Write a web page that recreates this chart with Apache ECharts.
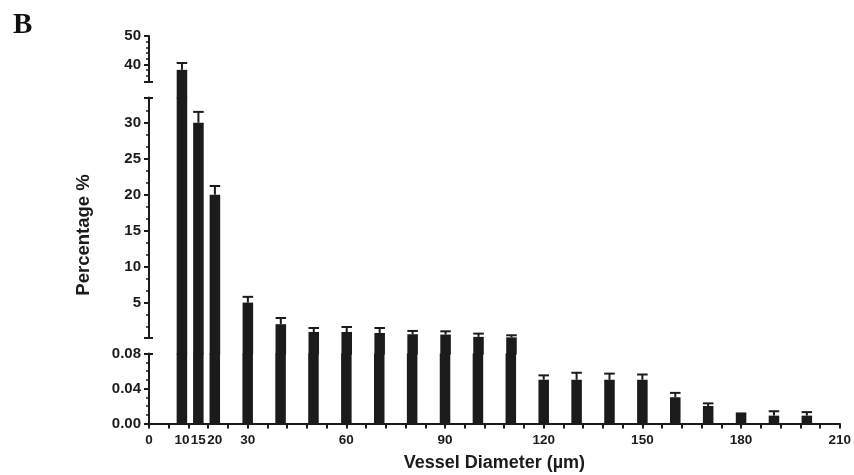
<!DOCTYPE html>
<html>
<head>
<meta charset="utf-8">
<script src="https://cdn.jsdelivr.net/npm/echarts@6/dist/echarts.min.js"></script>
<style>
  html, body { margin: 0; padding: 0; background: #fff; }
  #chart { width: 854px; height: 475px; }
</style>
</head>
<body>
<div id="chart"></div>
<script>
// vessel diameter classes (µm) and mean percentage with upper SEM
const diameters = [10, 15, 20, 30, 40, 50, 60, 70, 80, 90, 100, 110, 120, 130, 140, 150, 160, 170, 180, 190, 200];
const percentages = [38.1, 30.0, 20.0, 5.0, 2.0, 0.92, 0.92, 0.78, 0.6, 0.56, 0.24, 0.17, 0.05, 0.05, 0.05, 0.05, 0.03, 0.02, 0.011, 0.009, 0.009];
const sem = [2.4, 1.5, 1.2, 0.8, 0.86, 0.55, 0.69, 0.69, 0.46, 0.45, 0.45, 0.29, 0.005, 0.008, 0.007, 0.006, 0.005, 0.003, 0.0005, 0.005, 0.004];

const xLabels = [0, 10, 15, 20, 30, 60, 90, 120, 150, 180, 210];
const xTicks = Array.from({ length: 36 }, (_, i) => i * 6);

// broken y axis: top, middle, bottom segment
const segRanges = [[34, 50], [0.15, 33.5], [0, 0.08]];
const segMajor = [[40, 50], [5, 10, 15, 20, 25, 30], [0, 0.04, 0.08]];
const segMinor = [
	[36, 38, 42, 44, 46, 48],
	[1.667, 3.333, 6.667, 8.333, 11.667, 13.333, 16.667, 18.333, 21.667, 23.333, 26.667, 28.333, 31.667],
	[0.01, 0.02, 0.03, 0.05, 0.06, 0.07]
];
const segBreaks = [[34], [0.15, 33.5], [0.08]];

const segBoxes = [
	{ top: 36, height: 45.5 },
	{ top: 97.5, height: 240 },
	{ top: 353.5, height: 70 }
];

const ink = '#1b1b1b';
const barWidth = 3.2;
const font = "'Liberation Sans', Arial, sans-serif";

var myChart = echarts.init(document.getElementById('chart'));

function makeRender(k) {
	let lo = segRanges[k][0], hi = segRanges[k][1];
	// bars run on through the gap under a break, 1px overlap to avoid seams
	let gapBelow = k < 2 ? segBoxes[k + 1].top - (segBoxes[k].top + segBoxes[k].height) + 1 : 0;
	return function (params, api) {
		let x = api.value(0), v = api.value(1), err = api.value(2);
		if (k < 2 && v <= lo) return null;
		let half = barWidth / 2;
		let pTop = api.coord([x - half, Math.min(v, hi)]);
		let pBot = api.coord([x + half, lo]);
		let children = [{
			type: 'rect',
			shape: {
				x: pTop[0],
				y: pTop[1],
				width: pBot[0] - pTop[0],
				height: pBot[1] + gapBelow - pTop[1]
			},
			style: { fill: ink }
		}];
		if (v > lo && v <= hi) {
			let a = api.coord([x, v]);
			let b = api.coord([x, v + err]);
			let c1 = api.coord([x - half, v + err]);
			let c2 = api.coord([x + half, v + err]);
			children.push({
				type: 'line',
				shape: { x1: a[0], y1: a[1], x2: b[0], y2: b[1] },
				style: { stroke: ink, lineWidth: 2 }
			});
			children.push({
				type: 'line',
				shape: { x1: c1[0], y1: c1[1], x2: c2[0], y2: c2[1] },
				style: { stroke: ink, lineWidth: 2 }
			});
		}
		return { type: 'group', children: children };
	};
}

let seriesData = diameters.map((d, i) => [d, percentages[i], sem[i]]);

let grids = segBoxes.map(b => ({ left: 149, right: 13, top: b.top, height: b.height }));

let xAxes = segBoxes.map((b, k) => ({
	type: 'value',
	gridIndex: k,
	min: 0,
	max: 210,
	show: k === 2,
	splitLine: { show: false },
	axisLine: { show: true, onZero: false, lineStyle: { color: ink, width: 2 } },
	axisTick: { show: true, customValues: xTicks, length: 5, lineStyle: { color: ink, width: 2 } },
	axisLabel: {
		customValues: xLabels,
		color: ink,
		fontSize: 13.5,
		fontWeight: 'bold',
		fontFamily: font,
		margin: 10
	},
	name: k === 2 ? 'Vessel Diameter (µm)' : '',
	nameLocation: 'middle',
	nameGap: 31,
	nameTextStyle: { color: ink, fontSize: 18, fontWeight: 'bold', fontFamily: font }
}));

let yAxes = [];
// main axes: line, major ticks, labels
segRanges.forEach((r, k) => {
	yAxes.push({
		type: 'value',
		gridIndex: k,
		min: r[0],
		max: r[1],
		position: 'left',
		splitLine: { show: false },
		axisLine: { show: true, onZero: false, lineStyle: { color: ink, width: 2 } },
		axisTick: {
			show: true,
			customValues: segMajor[k].concat(segBreaks[k]),
			length: 5,
			lineStyle: { color: ink, width: 2 }
		},
		axisLabel: {
			customValues: segMajor[k],
			color: ink,
			fontSize: 15,
			fontWeight: 'bold',
			fontFamily: font,
			margin: 8,
			formatter: v => (k === 2 ? v.toFixed(2) : String(v))
		}
	});
});
// minor ticks
segRanges.forEach((r, k) => {
	yAxes.push({
		type: 'value',
		gridIndex: k,
		min: r[0],
		max: r[1],
		position: 'left',
		splitLine: { show: false },
		axisLine: { show: false },
		axisTick: { show: true, customValues: segMinor[k], length: 3, lineStyle: { color: ink, width: 1.5 } },
		axisLabel: { show: false }
	});
});
// inner half of the break caps
segRanges.forEach((r, k) => {
	yAxes.push({
		type: 'value',
		gridIndex: k,
		min: r[0],
		max: r[1],
		position: 'left',
		splitLine: { show: false },
		axisLine: { show: false },
		axisTick: { show: true, inside: true, customValues: segBreaks[k], length: 4, lineStyle: { color: ink, width: 2 } },
		axisLabel: { show: false }
	});
});

let series = segRanges.map((r, k) => ({
	type: 'custom',
	xAxisIndex: k,
	yAxisIndex: k,
	clip: false,
	renderItem: makeRender(k),
	encode: { x: 0, y: 1 },
	data: seriesData,
	z: 1
}));

option = {
	animation: false,
	backgroundColor: '#ffffff',
	title: {
		text: 'B',
		left: 8,
		top: 6,
		textStyle: {
			fontFamily: "'Liberation Serif', 'Times New Roman', serif",
			fontSize: 29,
			fontWeight: 'bold',
			color: '#111'
		}
	},
	graphic: [{
		type: 'text',
		x: 84,
		y: 235,
		rotation: Math.PI / 2,
		style: {
			text: 'Percentage %',
			fill: ink,
			font: 'bold 18.5px ' + font,
			align: 'center',
			verticalAlign: 'middle'
		}
	}],
	grid: grids,
	xAxis: xAxes,
	yAxis: yAxes,
	series: series
};
myChart.setOption(option);
</script>
</body>
</html>
